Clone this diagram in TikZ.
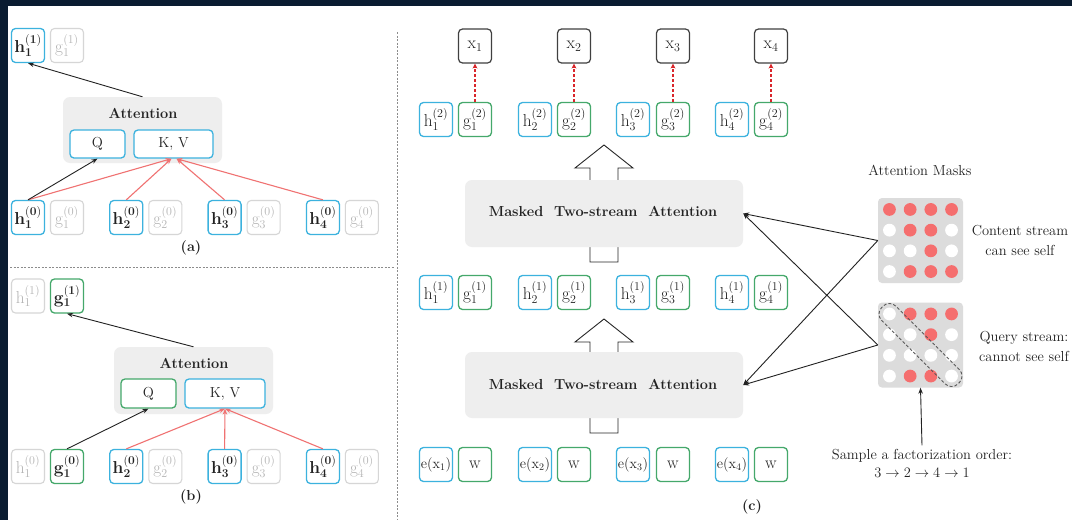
\documentclass[tikz,border=0pt]{standalone}
\usetikzlibrary{arrows.meta,calc}
\definecolor{navy}{HTML}{0A1C31}
\definecolor{cblue}{HTML}{3CB2DE}
\definecolor{cgreen}{HTML}{45A86B}
\definecolor{cgrayb}{HTML}{D6D6D6}
\definecolor{cgrayt}{HTML}{B4B4B4}
\definecolor{cred}{HTML}{F07272}
\definecolor{cdred}{HTML}{D9262B}
\definecolor{mR}{HTML}{F56E6E}
\definecolor{mW}{HTML}{FFFFFF}
\definecolor{maskbg}{HTML}{DCDCDC}
\definecolor{attfill}{HTML}{EEEEEE}
\definecolor{ink}{HTML}{222222}
\newcommand\HB[2]{$\mathbf{h}_{\mathbf{#1}}^{\mathbf{(#2)}}$}
\newcommand\GB[2]{$\mathbf{g}_{\mathbf{#1}}^{\mathbf{(#2)}}$}
\newcommand\HR[2]{$\mathrm{h}_{#1}^{(#2)}$}
\newcommand\GR[2]{$\mathrm{g}_{#1}^{(#2)}$}
\begin{document}
\begin{tikzpicture}[x=1pt,y=-1pt,
  cell/.style={rounded corners=4pt, line width=1.3pt, minimum width=33pt, minimum height=34pt, inner sep=0pt, fill=white, text=ink, font=\fontsize{17.28}{20}\selectfont},
  hb/.style={cell, draw=cblue},
  gb/.style={cell, draw=cgreen},
  fb/.style={cell, draw=cgrayb, text=cgrayt, line width=1.1pt},
  xb/.style={cell, draw=black!75, line width=1.2pt},
  attbox/.style={fill=attfill, rounded corners=7pt, inner sep=0pt},
  lab/.style={text=ink, font=\fontsize{14.5}{20}\selectfont},
  blab/.style={text=ink, font=\fontsize{14.5}{20}\selectfont\bfseries},
  arr/.style={-{Stealth[length=6pt,width=4.5pt]}, line width=0.9pt},
  blkarr/.style={arr, draw=ink},
  redarr/.style={arr, draw=cred, line width=1.1pt},
  dredarr/.style={-{Stealth[length=5pt,width=5pt]}, draw=cdred, line width=2pt, dash pattern=on 3pt off 2pt},
  hollow/.style={draw=black!85, fill=white, line width=0.9pt},
  sep/.style={draw=black!45, line width=1pt, dash pattern=on 2pt off 1.5pt}
]
\useasboundingbox (0,0) rectangle (1072,520);
\clip (0,0) rectangle (1072,520);
\fill[white] (0,0) rectangle (1072,520);
\fill[navy] (0,0) rectangle (1072,6);
\fill[navy] (0,0) rectangle (8,520);

% separators
\draw[sep] (397,32) -- (397,520);
\draw[sep] (10,267) -- (395,267);

% ---------------- panel (a)
\node[hb] (a-h1t) at (28,45.5) {\HB11};
\node[fb] (a-g1t) at (67,45.5) {\GR11};
\node[attbox, minimum width=159pt, minimum height=66pt] (a-att) at (142.5,130) {};
\node[blab] (a-atttxt) at (143,113) {Attention};
\node[hb, minimum width=55pt, minimum height=28pt, font=\fontsize{14.5}{17}\selectfont] (a-q) at (97.5,144) {Q};
\node[hb, minimum width=79pt, minimum height=28pt, font=\fontsize{14.5}{17}\selectfont] (a-kv) at (173.5,144) {K, V};
\foreach \i in {1,2,3,4}{
  \pgfmathsetmacro\xh{28+98.3*(\i-1)}
  \pgfmathsetmacro\xg{\xh+39}
  \node[hb] (a-h\i) at (\xh,217.5) {\HB{\i}0};
  \node[fb] (a-g\i) at (\xg,217.5) {\GR{\i}0};
}
\node[blab] (a-lab) at (191,248) {(a)};
\draw[redarr] (a-h1.north) -- ($(a-kv.south)+(-2,0)$);
\draw[redarr] (a-h2.north) -- ($(a-kv.south)+(-2,0)$);
\draw[redarr] (a-h3.north) -- ($(a-kv.south)+(3,0)$);
\draw[redarr] (a-h4.north) -- ($(a-kv.south)+(3,0)$);
\draw[blkarr] (a-h1.north) -- (a-q.south);
\draw[blkarr] (a-att.north) -- (a-h1t.south);

% ---------------- panel (b)
\node[fb] (b-h1t) at (28,296) {\HR11};
\node[gb] (b-g1t) at (67,296) {\GB11};
\node[attbox, minimum width=159pt, minimum height=67pt] (b-att) at (193.5,380.5) {};
\node[blab] (b-atttxt) at (194,363) {Attention};
\node[gb, minimum width=55pt, minimum height=29pt, font=\fontsize{14.5}{17}\selectfont] (b-q) at (148.5,393.5) {Q};
\node[hb, minimum width=80pt, minimum height=29pt, font=\fontsize{14.5}{17}\selectfont] (b-kv) at (225,393.5) {K, V};
\node[fb] (b-h1) at (28,466.5) {\HR10};
\node[gb] (b-g1) at (67,466.5) {\GB10};
\foreach \i in {2,3,4}{
  \pgfmathsetmacro\xh{28+98.3*(\i-1)}
  \pgfmathsetmacro\xg{\xh+39}
  \node[hb] (b-h\i) at (\xh,466.5) {\HB{\i}0};
  \node[fb] (b-g\i) at (\xg,466.5) {\GR{\i}0};
}
\node[blab] (b-lab) at (191,497) {(b)};
\draw[redarr] (b-h2.north) -- (b-kv.south);
\draw[redarr] (b-h3.north) -- (b-kv.south);
\draw[redarr] (b-h4.north) -- (b-kv.south);
\draw[blkarr] (b-g1.north) -- (b-q.south);
\draw[blkarr] (b-att.north) -- (b-g1t.south);

% ---------------- panel (c)
\draw[hollow] (590,262) -- (618,262) -- (618,168) -- (633,168) -- (604,145) -- (575,168) -- (590,168) -- cycle;
\draw[hollow] (590,433) -- (618,433) -- (618,342) -- (633,342) -- (604,319) -- (575,342) -- (590,342) -- cycle;
\node[attbox, minimum width=278pt, minimum height=67pt] (c-att1) at (604,213.5) {};
\node[blab] (c-att1txt) at (603,211) {Masked\ \ Two-stream\ \ Attention};
\node[attbox, minimum width=278pt, minimum height=66pt] (c-att2) at (604,385) {};
\node[blab] (c-att2txt) at (603,384) {Masked\ \ Two-stream\ \ Attention};
\foreach \i/\xh/\xg in {1/436/475,2/535/574,3/633/673,4/732/771}{
  \node[xb] (c-x\i) at (\xg,46) {$\mathrm{x}_{\i}$};
  \node[hb] (c-h\i t) at (\xh,119.5) {\HR{\i}2};
  \node[gb] (c-g\i t) at (\xg,119.5) {\GR{\i}2};
  \node[hb] (c-h\i m) at (\xh,292.5) {\HR{\i}1};
  \node[gb] (c-g\i m) at (\xg,292.5) {\GR{\i}1};
  \node[hb, font=\fontsize{14.4}{17}\selectfont] (c-e\i) at (\xh,464.5) {$\mathrm{e}(\mathrm{x}_{\i})$};
  \node[gb] (c-w\i) at (\xg,464.5) {$\mathrm{w}$};
  \draw[dredarr] (c-g\i t.north) -- (c-x\i.south);
}
\node[blab] (c-lab) at (752,507) {(c)};

% ---------------- masks
\node[lab] (mtitle) at (920,170) {Attention Masks};
\node[fill=maskbg, rounded corners=4pt, minimum width=85pt, minimum height=85pt, inner sep=0pt] (m1) at (920.5,240.5) {};
\node[fill=maskbg, rounded corners=4pt, minimum width=85pt, minimum height=85pt, inner sep=0pt] (m2) at (920.5,345) {};
\foreach \r/\a/\b/\c/\d in {0/mR/mR/mR/mR,1/mW/mR/mR/mW,2/mW/mW/mR/mW,3/mW/mR/mR/mR}{
  \foreach \cc/\v in {0/\a,1/\b,2/\c,3/\d}{
    \fill[\v] ($(m1.center)+(-31.05+20.7*\cc,-31.05+20.7*\r)$) circle (6.4);
  }
}
\foreach \r/\a/\b/\c/\d in {0/mW/mR/mR/mR,1/mW/mW/mR/mW,2/mW/mW/mW/mW,3/mW/mR/mR/mW}{
  \foreach \cc/\v in {0/\a,1/\b,2/\c,3/\d}{
    \fill[\v] ($(m2.center)+(-31.05+20.7*\cc,-31.05+20.7*\r)$) circle (6.4);
  }
}
\node[draw=black!65, line width=0.9pt, dash pattern=on 3pt off 2pt, rounded corners=9pt, minimum width=108pt, minimum height=20pt, rotate=-45] (diag) at (m2.center) {};
\node[lab, align=center] (m1txt) at (1020,240) {Content stream\\can see self};
\node[lab, align=center] (m2txt) at (1024,346) {Query stream:\\cannot see self};
\draw[blkarr] (m1.west) -- (c-att1.east);
\draw[blkarr] (m1.west) -- (c-att2.east);
\draw[blkarr] (m2.west) -- (c-att1.east);
\draw[blkarr] (m2.west) -- (c-att2.east);
\node[lab, align=center, font=\fontsize{14.5}{18}\selectfont] (samp) at (922,463) {Sample a factorization order:\\$3\rightarrow2\rightarrow4\rightarrow1$};
\draw[blkarr] (samp.north) -- (m2.south);
\end{tikzpicture}
\end{document}
